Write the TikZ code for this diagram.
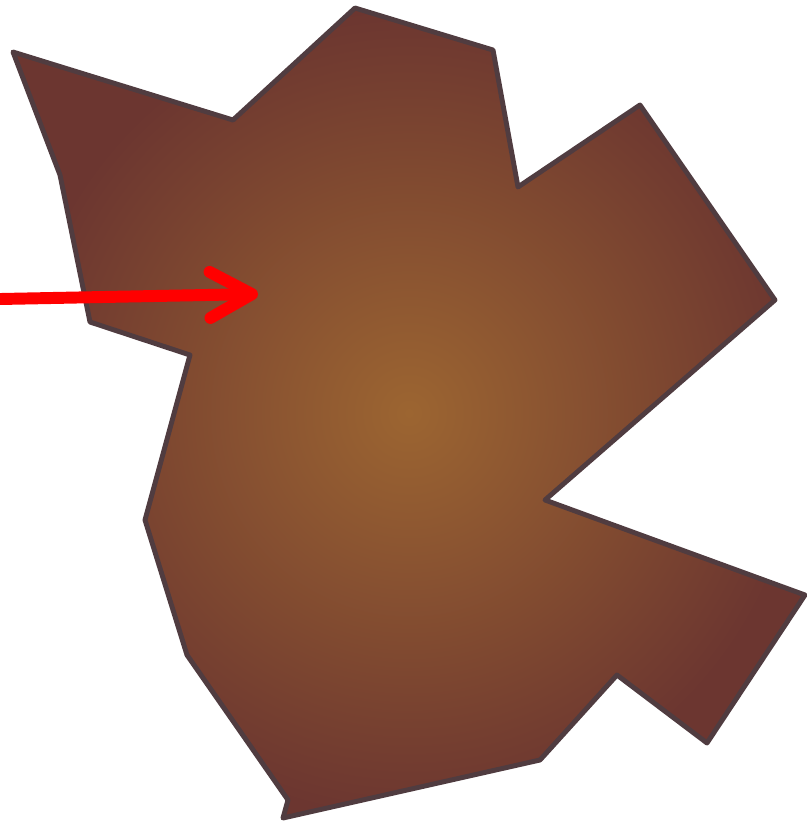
\documentclass[tikz,border=0pt]{standalone}
\usepackage{xcolor}
\usepackage{tikz}
\usetikzlibrary{arrows.meta}

\definecolor{leafcore}{RGB}{156,101,49}
\definecolor{leafrim}{RGB}{108,54,48}
\definecolor{leafedge}{RGB}{80,60,64}

\begin{document}
\begin{tikzpicture}[x=0.025cm, y=-0.025cm]
\useasboundingbox (0,0) rectangle (807,825);

% the shape
\shade [inner color=leafcore, outer color=leafrim, draw=leafedge, line width=3.5pt, line join=round]
  (13,52) -- (233,120) -- (355,8) -- (493,50) -- (518,187) -- (640,105) -- (775,300)
  -- (545,500) -- (805,595) -- (707,743) -- (617,675) -- (540,760) -- (283,818)
  -- (288,800) -- (187,655) -- (145,520) -- (190,355) -- (90,322) -- (60,175) -- cycle;

\coordinate (start) at (0,299);
\coordinate (target) at (258,294);

\draw [-{Straight Barb[round, length=1.05cm, width=1.15cm]}, red, line width=8.5pt] (start) -- (target);

\end{tikzpicture}
\end{document}
